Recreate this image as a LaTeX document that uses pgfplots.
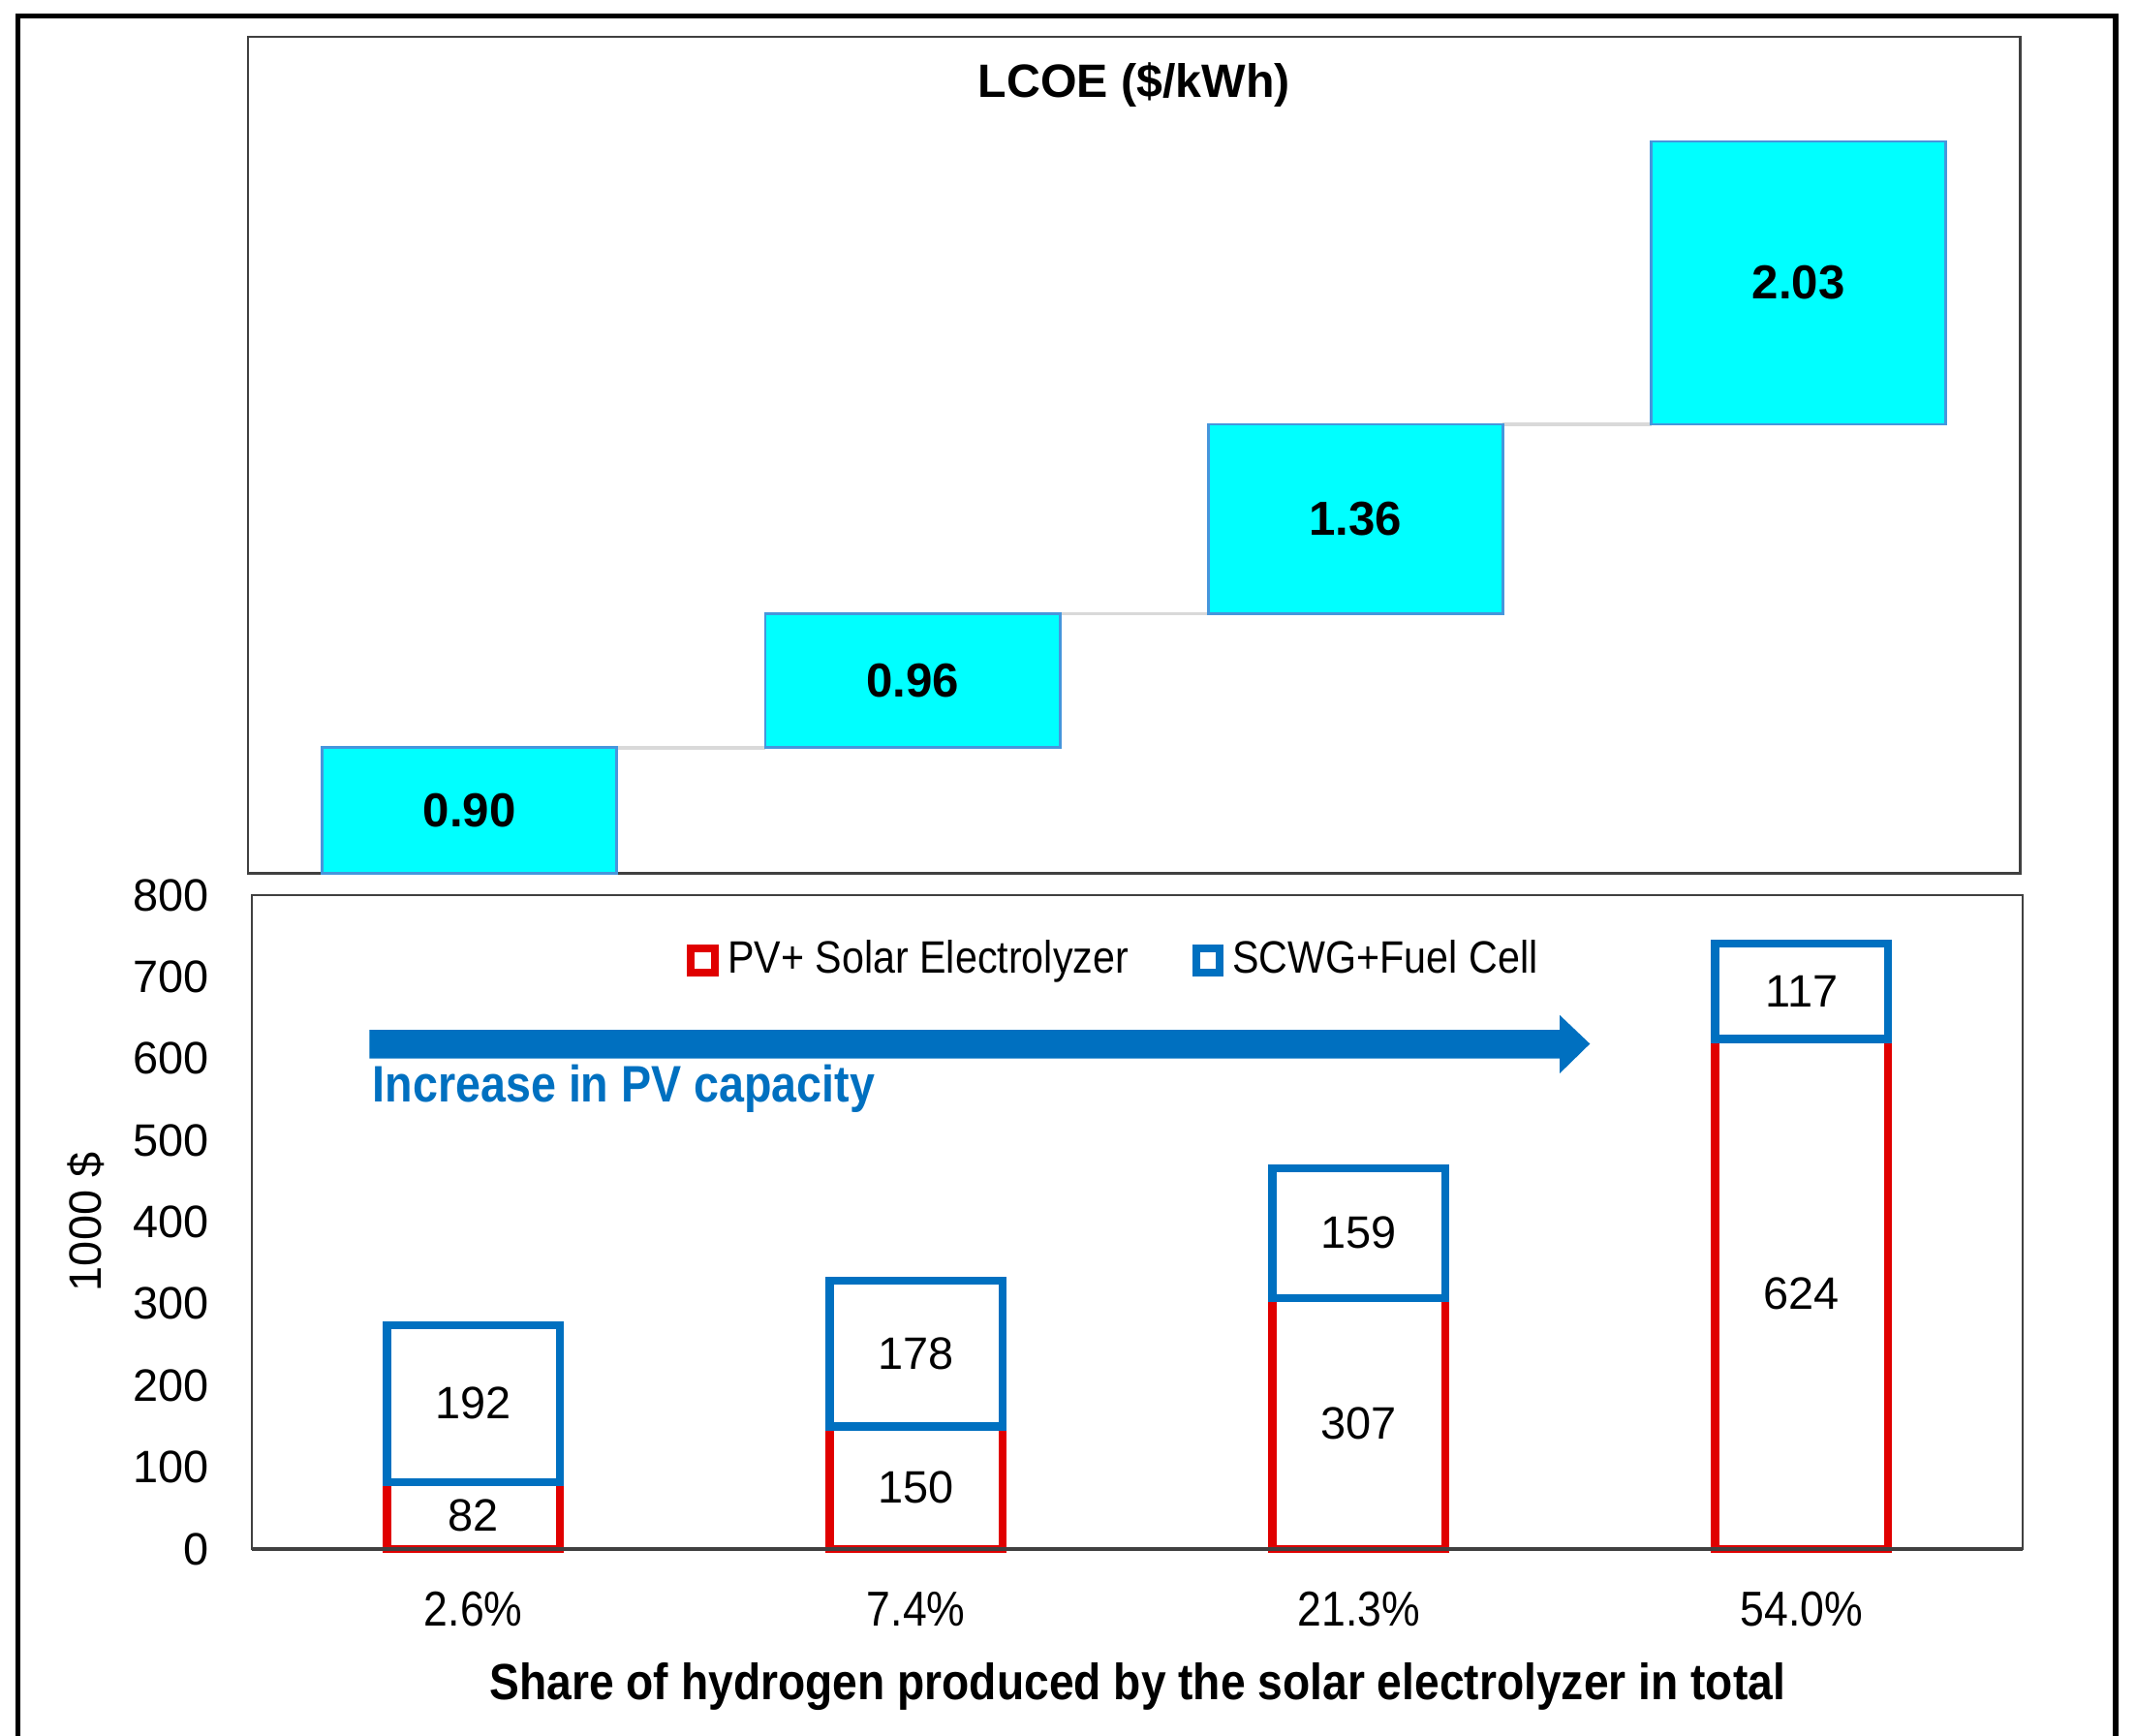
\documentclass[border=0pt]{standalone}
\usepackage{fontspec}
\setmainfont{Liberation Sans}
\newfontfamily\narrow{Liberation Sans}[FakeStretch=0.88]
\usepackage{pgfplots}
\pgfplotsset{compat=1.18}

\definecolor{cyanbox}{RGB}{0,255,255}
\definecolor{cyanedge}{RGB}{70,150,220}
\definecolor{redbar}{RGB}{224,0,0}
\definecolor{bluebar}{RGB}{0,112,192}
\definecolor{frame}{RGB}{64,64,64}

\begin{document}
\begin{tikzpicture}
\path[use as bounding box] (0,0) rectangle (470.4pt,-382.2pt);
\draw[line width=1.1pt] (3.9pt,-382.2pt) -- (3.9pt,-3.6pt) -- (465.9pt,-3.6pt) -- (465.9pt,-382.2pt);

% LCOE waterfall (base + step)
\begin{axis}[
  at={(54.6pt,-192.3pt)}, anchor=south west,
  width=390.3pt, height=184.2pt, scale only axis,
  ybar stacked, bar width=0.665,
  xmin=-0.5, xmax=3.5, ymin=0, ymax=6,
  xtick=\empty, ytick=\empty,
  axis line style={draw=frame, line width=0.5pt},
  clip=false,
  after end axis/.append code={
    \node[font=\fontsize{10.5}{12}\selectfont\bfseries] at (axis cs:0,0.45) {0.90};
    \node[font=\fontsize{10.5}{12}\selectfont\bfseries] at (axis cs:1,1.38) {0.96};
    \node[font=\fontsize{10.5}{12}\selectfont\bfseries] at (axis cs:2,2.54) {1.36};
    \node[font=\fontsize{10.5}{12}\selectfont\bfseries] at (axis cs:3,4.235) {2.03};
    \node[font=\fontsize{10.3}{12}\selectfont\bfseries] at (rel axis cs:0.5,0.943) {LCOE (\$/kWh)};
  },
]
\addplot[draw=none, fill=none] coordinates {(0,0) (1,0.90) (2,1.86) (3,3.22)};
\addplot[fill=cyanbox, draw=cyanedge, line width=0.6pt] coordinates {(0,0.90) (1,0.96) (2,1.36) (3,2.03)};
\draw[gray!30, line width=0.7pt] (axis cs:0.3325,0.90) -- (axis cs:0.6675,0.90);
\draw[gray!30, line width=0.7pt] (axis cs:1.3325,1.86) -- (axis cs:1.6675,1.86);
\draw[gray!30, line width=0.7pt] (axis cs:2.3325,3.22) -- (axis cs:2.6675,3.22);
\end{axis}

% cost bars
\begin{axis}[
  at={(55.5pt,-341.1pt)}, anchor=south west,
  width=390pt, height=144pt, scale only axis,
  ybar stacked, reverse stacked plots=false, bar width=0.39,
  xmin=-0.5, xmax=3.5, ymin=0, ymax=800,
  xtick={0,1,2,3}, xticklabels={2.6\%,7.4\%,21.3\%,54.0\%},
  ytick={0,100,...,800},
  major tick length=0pt,
  axis line style={draw=frame, line width=0.5pt},
  /pgf/number format/assume math mode=true,
  yticklabel style={font=\fontsize{10}{12}\selectfont, xshift=-6pt},
  xticklabel style={font=\narrow\fontsize{10.8}{13}\selectfont, yshift=-6pt},
  xlabel={Share of hydrogen produced by the solar electrolyzer in total},
  xlabel style={font=\narrow\bfseries\fontsize{11.2}{13}\selectfont, at={(axis description cs:0.5,-0.21)}, anchor=center},
  ylabel={1000 \$},
  ylabel style={font=\fontsize{10}{12}\selectfont, at={(axis description cs:-0.094,0.5)}, anchor=center},
  legend columns=2,
  legend style={at={(axis description cs:0.4885,0.9)}, anchor=center, draw=none, fill=none,
    font=\narrow\fontsize{10}{12}\selectfont,
    /tikz/every even column/.append style={column sep=12pt}},
  legend image code/.code={\draw[#1, line width=1.7pt, fill=white] (0pt,-2.6pt) rectangle (5.2pt,2.6pt);},
  clip=false,
  after end axis/.append code={
    \draw[frame, line width=1pt] (rel axis cs:0,0) -- (rel axis cs:1,0);
    \node[font=\fontsize{10}{12}\selectfont] at (axis cs:0,41) {82};
    \node[font=\fontsize{10}{12}\selectfont] at (axis cs:0,178) {192};
    \node[font=\fontsize{10}{12}\selectfont] at (axis cs:1,75) {150};
    \node[font=\fontsize{10}{12}\selectfont] at (axis cs:1,239) {178};
    \node[font=\fontsize{10}{12}\selectfont] at (axis cs:2,153.5) {307};
    \node[font=\fontsize{10}{12}\selectfont] at (axis cs:2,386.5) {159};
    \node[font=\fontsize{10}{12}\selectfont] at (axis cs:3,312) {624};
    \node[font=\fontsize{10}{12}\selectfont] at (axis cs:3,682.5) {117};
  },
]
\addplot[fill=white, draw=redbar, line width=1.8pt] coordinates {(0,82) (1,150) (2,307) (3,624)};
\addlegendentry{PV+ Solar Electrolyzer}
\addplot[fill=white, draw=bluebar, line width=1.8pt] coordinates {(0,192) (1,178) (2,159) (3,117)};
\addlegendentry{SCWG+Fuel Cell}
\fill[bluebar] (axis cs:-0.235,600) -- (axis cs:2.454,600) -- (axis cs:2.454,582) -- (axis cs:2.522,618)
  -- (axis cs:2.454,653) -- (axis cs:2.454,635) -- (axis cs:-0.235,635) -- cycle;
\node[anchor=west, inner sep=0pt, text=bluebar, font=\narrow\bfseries\fontsize{11.3}{13}\selectfont] at (axis cs:-0.229,563) {Increase in PV capacity};
\end{axis}
\end{tikzpicture}
\end{document}
